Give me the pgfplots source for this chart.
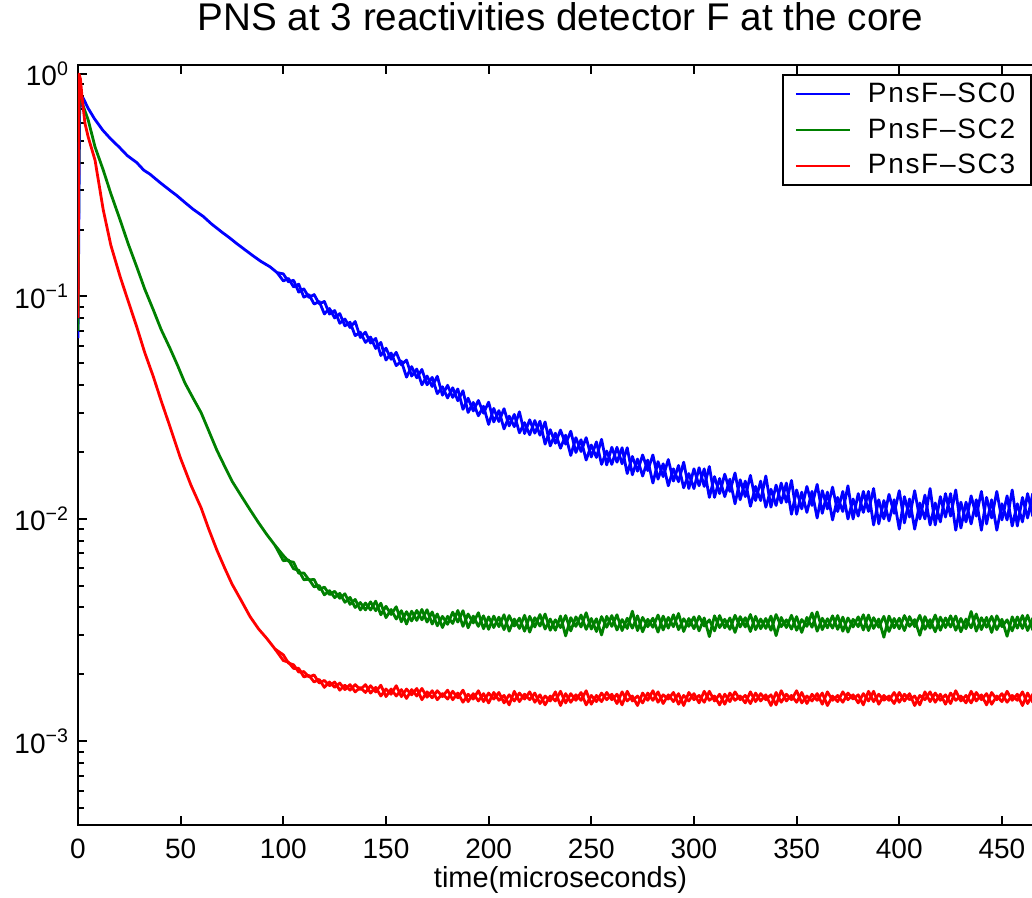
\documentclass[border=0pt]{standalone}
\usepackage{fontspec}
\setmainfont{Liberation Sans}
\newfontfamily\legfont[LetterSpace=6]{Liberation Sans}
\usepackage{pgfplots}
\pgfplotsset{compat=1.18}
\definecolor{cblue}{RGB}{0,0,255}
\definecolor{cgreen}{RGB}{0,128,0}
\definecolor{cred}{RGB}{255,0,0}
\begin{document}
\begin{tikzpicture}
\begin{axis}[
  scale only axis, width=482.5pt, height=380pt,
  at={(0,0)}, anchor=south west,
  ymode=log, xmin=0, xmax=470, ymin=4.21e-4, ymax=1.098,
  xtick={0,50,...,450},
  ytick={1e-3,1e-2,1e-1,1},
  yticklabels={10\textsuperscript{−3},10\textsuperscript{−2},10\textsuperscript{−1},10\textsuperscript{0}},
  minor ytick={5e-4,6e-4,7e-4,8e-4,9e-4,2e-3,3e-3,4e-3,5e-3,6e-3,7e-3,8e-3,9e-3,2e-2,3e-2,4e-2,5e-2,6e-2,7e-2,8e-2,9e-2,0.2,0.3,0.4,0.5,0.6,0.7,0.8,0.9},
  major tick length=4.5pt, minor tick length=3pt,
  tick style={line width=1pt, black},
  axis line style={line width=1pt},
  tick label style={font=\fontsize{14}{16}\selectfont},
  /pgf/number format/assume math mode=true,
  xticklabel style={anchor=base, yshift=-16.5pt},
  yticklabel style={anchor=east, xshift=-1pt},
  title={PNS at 3 reactivities detector F at the core},
  title style={at={(0.5,1)}, anchor=base, yshift=11.5pt, font=\fontsize{19.3}{22}\selectfont},
  xlabel={time(microseconds)},
  xlabel style={at={(0.5,0)}, anchor=base, yshift=-31pt, font=\fontsize{14.5}{16}\selectfont},
  every axis plot/.append style={line width=1.4pt, line join=round},
  legend cell align=left,
  legend image code/.code={\draw[#1, line width=1pt] (0pt,0pt) -- (27pt,0pt);},
  legend style={at={(0.7295,0.988)}, anchor=north west, draw=black, line width=1pt,
     font=\legfont\fontsize{14}{16}\selectfont, inner xsep=6pt, inner ysep=2pt, row sep=2.5pt,
     /tikz/every odd column/.append style={column sep=6.5pt}},
]
% ---------- PnsF-SC0 ----------
\addplot[cblue] coordinates {
(0,0.065) (0.8,0.70) (2.5,0.78) (5,0.70) (8,0.63) (12,0.56) (16,0.51) (20,0.47) (24,0.43) (28.6,0.40)
(32,0.37) (35,0.355) (40,0.325) (44.8,0.30) (48,0.285) (52,0.265) (56,0.247) (61,0.229) (65,0.212) (70,0.195)
(74,0.183) (77.3,0.173) (81,0.163) (85,0.153) (89,0.144) (93.5,0.136) (97,0.128)
(100,0.1264) (102.5,0.1164) (105,0.1183) (107.5,0.1046) (110,0.1082) (112.5,0.0989) (115,0.1020) (117.5,0.0927)
(120,0.0950) (122.5,0.0834) (125,0.0865) (127.5,0.0758) (130,0.0792) (132.5,0.0725) (135,0.0772) (137.5,0.0654)
(140,0.0691) (142.5,0.0618) (145,0.0648) (147.5,0.0543) (150,0.0586) (152.5,0.0522) (155,0.0561) (157.5,0.0493)
(160,0.0518) (162.5,0.0439) (165,0.0472) (167.5,0.0401) (170,0.0439) (172.5,0.0394) (175,0.0438) (177.5,0.0360)
(180,0.0399) (182.5,0.0352) (185,0.0384) (187.5,0.0311) (190,0.0349) (192.5,0.0306) (195,0.0341) (197.5,0.0299)
(200,0.0335) (202.5,0.0273) (205,0.0307) (207.5,0.0254) (210,0.0290) (212.5,0.0260) (215,0.0303) (217.5,0.0242)
(220,0.0279) (222.5,0.0243) (225,0.0275) (227.5,0.0217) (230,0.0252) (232.5,0.0219) (235,0.0251) (237.5,0.0217)
(240,0.0248) (242.5,0.0199) (245,0.0227) (247.5,0.0184) (250,0.0215) (252.5,0.0189) (255,0.0228) (257.5,0.0175)
(260,0.0210) (262.5,0.0180) (265,0.0209) (267.5,0.0160) (270,0.0191) (272.5,0.0164) (275,0.0194) (277.5,0.0165)
(280,0.0194) (282.5,0.0151) (285,0.0177) (287.5,0.0141) (290,0.0168) (292.5,0.0147) (295,0.0180) (297.5,0.0137)
(300,0.0168) (302.5,0.0141) (305,0.0168) (307.5,0.0125) (310,0.0155) (312.5,0.0130) (315,0.0159) (317.5,0.0133)
(320,0.0161) (322.5,0.0122) (325,0.0148) (327.5,0.0114) (330,0.0140) (332.5,0.0121) (335,0.0156) (337.5,0.0113)
(340,0.0142) (342.5,0.0118) (345,0.0145) (347.5,0.0105) (350,0.0135) (352.5,0.0111) (355,0.0140) (357.5,0.0115)
(360,0.0143) (362.5,0.0106) (365,0.0132) (367.5,0.0099) (370,0.0125) (372.5,0.0108) (375,0.0141) (377.5,0.0100)
(380,0.0130) (382.5,0.0107) (385,0.0133) (387.5,0.0094) (390,0.0122) (392.5,0.0100) (395,0.0129) (397.5,0.0106)
(400,0.0134) (402.5,0.0096) (405,0.0123) (407.5,0.0090) (410,0.0118) (412.5,0.0100) (415,0.0137) (417.5,0.0094)
(420,0.0126) (422.5,0.0102) (425,0.0130) (427.5,0.0089) (430,0.0119) (432.5,0.0097) (435,0.0127) (437.5,0.0103)
(440,0.0133) (442.5,0.0095) (445,0.0122) (447.5,0.0089) (450,0.0117) (452.5,0.0099) (455,0.0135) (457.5,0.0093)
(460,0.0125) (462.5,0.0101) (465,0.0130) (467.5,0.0089) (470,0.0119)
};
\addlegendentry{PnsF–SC0}
\addplot[cblue, forget plot] coordinates {
(97,0.128) (100,0.1175) (102.5,0.1206) (105,0.1104) (107.5,0.1136) (110,0.0993) (112.5,0.1020) (115,0.0925)
(117.5,0.0949) (120,0.0835) (122.5,0.0883) (125,0.0801) (127.5,0.0838) (130,0.0738) (132.5,0.0766) (135,0.0667)
(137.5,0.0691) (140,0.0622) (142.5,0.0657) (145,0.0584) (147.5,0.0622) (150,0.0518) (152.5,0.0557) (155,0.0489)
(157.5,0.0512) (160,0.0434) (162.5,0.0484) (165,0.0431) (167.5,0.0470) (170,0.0401) (172.5,0.0433) (175,0.0366)
(177.5,0.0393) (180,0.0350) (182.5,0.0389) (185,0.0340) (187.5,0.0377) (190,0.0301) (192.5,0.0334) (195,0.0291)
(197.5,0.0321) (200,0.0266) (202.5,0.0314) (205,0.0274) (207.5,0.0313) (210,0.0262) (212.5,0.0295) (215,0.0244)
(217.5,0.0271) (220,0.0239) (222.5,0.0277) (225,0.0238) (227.5,0.0273) (230,0.0213) (232.5,0.0243) (235,0.0208)
(237.5,0.0238) (240,0.0193) (242.5,0.0232) (245,0.0201) (247.5,0.0232) (250,0.0190) (252.5,0.0222) (255,0.0176)
(257.5,0.0202) (260,0.0176) (262.5,0.0210) (265,0.0177) (267.5,0.0209) (270,0.0158) (272.5,0.0186) (275,0.0156)
(277.5,0.0184) (280,0.0145) (282.5,0.0181) (285,0.0155) (287.5,0.0185) (290,0.0148) (292.5,0.0174) (295,0.0138)
(297.5,0.0160) (300,0.0137) (302.5,0.0170) (305,0.0140) (307.5,0.0172) (310,0.0125) (312.5,0.0152) (315,0.0126)
(317.5,0.0151) (320,0.0117) (322.5,0.0150) (325,0.0126) (327.5,0.0157) (330,0.0121) (332.5,0.0148) (335,0.0113)
(337.5,0.0136) (340,0.0115) (342.5,0.0145) (345,0.0119) (347.5,0.0149) (350,0.0105) (352.5,0.0132) (355,0.0107)
(357.5,0.0133) (360,0.0101) (362.5,0.0134) (365,0.0111) (367.5,0.0139) (370,0.0108) (372.5,0.0133) (375,0.0100)
(377.5,0.0123) (380,0.0103) (382.5,0.0133) (385,0.0108) (387.5,0.0137) (390,0.0095) (392.5,0.0121) (395,0.0098)
(397.5,0.0122) (400,0.0090) (402.5,0.0126) (405,0.0102) (407.5,0.0134) (410,0.0100) (412.5,0.0128) (415,0.0094)
(417.5,0.0118) (420,0.0097) (422.5,0.0130) (425,0.0103) (427.5,0.0135) (430,0.0091) (432.5,0.0119) (435,0.0095)
(437.5,0.0122) (440,0.0089) (442.5,0.0125) (445,0.0101) (447.5,0.0133) (450,0.0099) (452.5,0.0127) (455,0.0093)
(457.5,0.0117) (460,0.0097) (462.5,0.0130) (465,0.0103) (467.5,0.0135) (470,0.0092)
};
% ---------- PnsF-SC2 ----------
\addplot[cgreen] coordinates {
(0,0.07) (0.6,0.85) (1.5,0.80) (2.5,0.72) (5,0.62) (8.3,0.47) (12.3,0.37) (16,0.29) (20.5,0.221) (24.5,0.172)
(28.6,0.136) (32.5,0.108) (36.7,0.087) (40.5,0.071) (44.8,0.0585) (48.5,0.049) (52,0.041) (56,0.035) (60,0.0300)
(64,0.0245) (67.6,0.0204) (71.5,0.0172) (75,0.0148) (79.5,0.0127) (83.8,0.0110) (88,0.0096) (92,0.0085) (96,0.0076)
(100,0.00685) (102.5,0.00646) (105,0.00639) (107.5,0.00570) (110,0.00572) (112.5,0.00532) (115,0.00535) (117.5,0.00481)
(120,0.00494) (122.5,0.00457) (125,0.00473) (127.5,0.00440) (130,0.00461) (132.5,0.00413) (135,0.00435) (137.5,0.00390)
(140,0.00419) (142.5,0.00390) (145,0.00427) (147.5,0.00371) (150,0.00405) (152.5,0.00372) (155,0.00403) (157.5,0.00345)
(160,0.00383) (162.5,0.00348) (165,0.00388) (167.5,0.00352) (170,0.00391) (172.5,0.00337) (175,0.00374) (177.5,0.00325)
(180,0.00365) (182.5,0.00339) (185,0.00388) (187.5,0.00329) (190,0.00374) (192.5,0.00341) (195,0.00379) (197.5,0.00321)
(200,0.00363) (202.5,0.00325) (205,0.00362) (207.5,0.00318) (210,0.00368) (212.5,0.00330) (215,0.00358) (217.5,0.00313)
(220,0.00365) (222.5,0.00327) (225,0.00372) (227.5,0.00320) (230,0.00355) (232.5,0.00316) (235,0.00366) (237.5,0.00298)
(240,0.00360) (242.5,0.00329) (245,0.00370) (247.5,0.00319) (250,0.00357) (252.5,0.00312) (255,0.00364) (257.5,0.00326)
(260,0.00368) (262.5,0.00317) (265,0.00353) (267.5,0.00322) (270,0.00385) (272.5,0.00315) (275,0.00361) (277.5,0.00328)
(280,0.00358) (282.5,0.00310) (285,0.00366) (287.5,0.00323) (290,0.00371) (292.5,0.00318) (295,0.00356) (297.5,0.00329)
(300,0.00363) (302.5,0.00314) (305,0.00359) (307.5,0.00296) (310,0.00367) (312.5,0.00325) (315,0.00354) (317.5,0.00319)
(320,0.00369) (322.5,0.00327) (325,0.00360) (327.5,0.00312) (330,0.00365) (332.5,0.00321) (335,0.00357) (337.5,0.00316)
(340,0.00372) (342.5,0.00328) (345,0.00352) (347.5,0.00320) (350,0.00364) (352.5,0.00309) (355,0.00361) (357.5,0.00326)
(360,0.00382) (362.5,0.00318) (365,0.00356) (367.5,0.00323) (370,0.00368) (372.5,0.00313) (375,0.00359) (377.5,0.00327)
(380,0.00363) (382.5,0.00317) (385,0.00370) (387.5,0.00322) (390,0.00355) (392.5,0.00294) (395,0.00366) (397.5,0.00324)
(400,0.00358) (402.5,0.00315) (405,0.00364) (407.5,0.00328) (410,0.00369) (412.5,0.00319) (415,0.00353) (417.5,0.00311)
(420,0.00362) (422.5,0.00325) (425,0.00367) (427.5,0.00316) (430,0.00357) (432.5,0.00321) (435,0.00384) (437.5,0.00313)
(440,0.00360) (442.5,0.00326) (445,0.00365) (447.5,0.00318) (450,0.00354) (452.5,0.00297) (455,0.00363) (457.5,0.00323)
(460,0.00368) (462.5,0.00315) (465,0.00358) (467.5,0.00320) (470,0.00361)
};
\addlegendentry{PnsF–SC2}
\addplot[cgreen, forget plot] coordinates {
(96,0.0076) (100,0.00649) (102.5,0.00654) (105,0.00597) (107.5,0.00588) (110,0.00533) (112.5,0.00536) (115,0.00495)
(117.5,0.00502) (120,0.00456) (122.5,0.00476) (125,0.00443) (127.5,0.00463) (130,0.00422) (132.5,0.00444) (135,0.00400)
(137.5,0.00421) (140,0.00390) (142.5,0.00424) (145,0.00387) (147.5,0.00418) (150,0.00360) (152.5,0.00392) (155,0.00355)
(157.5,0.00387) (160,0.00337) (162.5,0.00385) (165,0.00350) (167.5,0.00392) (170,0.00344) (172.5,0.00382) (175,0.00331)
(177.5,0.00365) (180,0.00336) (182.5,0.00381) (185,0.00344) (187.5,0.00387) (190,0.00324) (192.5,0.00366) (195,0.00329)
(197.5,0.00367) (200,0.00319) (202.5,0.00366) (205,0.00328) (207.5,0.00371) (210,0.00313) (212.5,0.00355) (215,0.00322)
(217.5,0.00369) (220,0.00310) (222.5,0.00360) (225,0.00330) (227.5,0.00374) (230,0.00316) (232.5,0.00352) (235,0.00325)
(237.5,0.00368) (240,0.00314) (242.5,0.00363) (245,0.00327) (247.5,0.00379) (250,0.00320) (252.5,0.00356) (255,0.00301)
(257.5,0.00365) (260,0.00329) (262.5,0.00371) (265,0.00315) (267.5,0.00358) (270,0.00323) (272.5,0.00367) (275,0.00311)
(277.5,0.00354) (280,0.00326) (282.5,0.00370) (285,0.00317) (287.5,0.00361) (290,0.00328) (292.5,0.00376) (295,0.00312)
(297.5,0.00357) (300,0.00321) (302.5,0.00365) (305,0.00330) (307.5,0.00352) (310,0.00314) (312.5,0.00368) (315,0.00324)
(317.5,0.00359) (320,0.00309) (322.5,0.00364) (325,0.00327) (327.5,0.00372) (330,0.00318) (332.5,0.00355) (335,0.00322)
(337.5,0.00366) (340,0.00299) (342.5,0.00361) (345,0.00325) (347.5,0.00369) (350,0.00316) (352.5,0.00353) (355,0.00329)
(357.5,0.00378) (360,0.00313) (362.5,0.00358) (365,0.00324) (367.5,0.00367) (370,0.00319) (372.5,0.00362) (375,0.00310)
(377.5,0.00354) (380,0.00328) (382.5,0.00371) (385,0.00315) (387.5,0.00360) (390,0.00326) (392.5,0.00365) (395,0.00312)
(397.5,0.00357) (400,0.00321) (402.5,0.00368) (405,0.00329) (407.5,0.00353) (410,0.00300) (412.5,0.00364) (415,0.00323)
(417.5,0.00370) (420,0.00316) (422.5,0.00359) (425,0.00327) (427.5,0.00366) (430,0.00311) (432.5,0.00355) (435,0.00324)
(437.5,0.00374) (440,0.00318) (442.5,0.00361) (445,0.00309) (447.5,0.00367) (450,0.00328) (452.5,0.00352) (455,0.00314)
(457.5,0.00363) (460,0.00322) (462.5,0.00369) (465,0.00317) (467.5,0.00358) (470,0.00320)
};
% ---------- PnsF-SC3 ----------
\addplot[cred] coordinates {
(0,0.08) (0.5,1.0) (1.2,0.95) (2,0.78) (3.4,0.6) (5,0.52) (8.3,0.41) (12.3,0.245) (16,0.17) (20.5,0.123)
(24.5,0.095) (28.6,0.0731) (32.5,0.056) (36.7,0.0436) (40.5,0.034) (44.8,0.026) (49.7,0.019) (55,0.0142)
(60,0.0112) (63.5,0.0091) (67.6,0.00726) (71.5,0.0060) (75,0.0051) (79.5,0.0043) (83.8,0.00364) (88,0.0032)
(92,0.0029) (96,0.0026)
(100,0.00245) (102.5,0.00225) (105,0.00221) (107.5,0.00205) (110,0.00206) (112.5,0.00195) (115,0.00199) (117.5,0.00183)
(120,0.00188) (122.5,0.00178) (125,0.00185) (127.5,0.00170) (130,0.00179) (132.5,0.00170) (135,0.00180) (137.5,0.00171)
(140,0.00180) (142.5,0.00165) (145,0.00175) (147.5,0.00160) (150,0.00172) (152.5,0.00163) (155,0.00178) (157.5,0.00159)
(160,0.00172) (162.5,0.00162) (165,0.00173) (167.5,0.00154) (170,0.00167) (172.5,0.00157) (175,0.00169) (177.5,0.00159)
(180,0.00170) (182.5,0.00154) (185,0.00165) (187.5,0.00150) (190,0.00163) (192.5,0.00155) (195,0.00169) (197.5,0.00151)
(200,0.00165) (202.5,0.00155) (205,0.00166) (207.5,0.00149) (210,0.00162) (212.5,0.00152) (215,0.00165) (217.5,0.00155)
(220,0.00167) (222.5,0.00150) (225,0.00162) (227.5,0.00146) (230,0.00160) (232.5,0.00152) (235,0.00168) (237.5,0.00149)
(240,0.00164) (242.5,0.00153) (245,0.00166) (247.5,0.00146) (250,0.00161) (252.5,0.00151) (255,0.00165) (257.5,0.00154)
(260,0.00163) (262.5,0.00148) (265,0.00167) (267.5,0.00152) (270,0.00160) (272.5,0.00145) (275,0.00165) (277.5,0.00153)
(280,0.00169) (282.5,0.00150) (285,0.00162) (287.5,0.00155) (290,0.00166) (292.5,0.00147) (295,0.00161) (297.5,0.00152)
(300,0.00164) (302.5,0.00149) (305,0.00168) (307.5,0.00153) (310,0.00160) (312.5,0.00146) (315,0.00163) (317.5,0.00151)
(320,0.00167) (322.5,0.00154) (325,0.00161) (327.5,0.00148) (330,0.00165) (332.5,0.00152) (335,0.00162) (337.5,0.00145)
(340,0.00166) (342.5,0.00150) (345,0.00163) (347.5,0.00154) (350,0.00169) (352.5,0.00149) (355,0.00160) (357.5,0.00152)
(360,0.00164) (362.5,0.00147) (365,0.00167) (367.5,0.00153) (370,0.00161) (372.5,0.00150) (375,0.00165) (377.5,0.00155)
(380,0.00162) (382.5,0.00146) (385,0.00168) (387.5,0.00151) (390,0.00163) (392.5,0.00153) (395,0.00160) (397.5,0.00148)
(400,0.00166) (402.5,0.00152) (405,0.00164) (407.5,0.00145) (410,0.00161) (412.5,0.00154) (415,0.00167) (417.5,0.00150)
(420,0.00163) (422.5,0.00147) (425,0.00165) (427.5,0.00153) (430,0.00160) (432.5,0.00149) (435,0.00168) (437.5,0.00152)
(440,0.00162) (442.5,0.00146) (445,0.00166) (447.5,0.00154) (450,0.00164) (452.5,0.00150) (455,0.00161) (457.5,0.00153)
(460,0.00167) (462.5,0.00148) (465,0.00163) (467.5,0.00151) (470,0.00160)
};
\addlegendentry{PnsF–SC3}
\addplot[cred, forget plot] coordinates {
(96,0.0026) (100,0.00231) (102.5,0.00227) (105,0.00213) (107.5,0.00213) (110,0.00195) (112.5,0.00198) (115,0.00185)
(117.5,0.00190) (120,0.00175) (122.5,0.00185) (125,0.00175) (127.5,0.00183) (130,0.00171) (132.5,0.00180) (135,0.00167)
(137.5,0.00175) (140,0.00166) (142.5,0.00178) (145,0.00167) (147.5,0.00179) (150,0.00159) (152.5,0.00172) (155,0.00160)
(157.5,0.00171) (160,0.00156) (162.5,0.00171) (165,0.00160) (167.5,0.00173) (170,0.00158) (172.5,0.00169) (175,0.00154)
(177.5,0.00164) (180,0.00155) (182.5,0.00168) (185,0.00157) (187.5,0.00170) (190,0.00151) (192.5,0.00164) (195,0.00152)
(197.5,0.00164) (200,0.00149) (202.5,0.00166) (205,0.00153) (207.5,0.00161) (210,0.00146) (212.5,0.00168) (215,0.00151)
(217.5,0.00163) (220,0.00154) (222.5,0.00165) (225,0.00148) (227.5,0.00160) (230,0.00152) (232.5,0.00167) (235,0.00145)
(237.5,0.00164) (240,0.00150) (242.5,0.00162) (245,0.00153) (247.5,0.00169) (250,0.00147) (252.5,0.00161) (255,0.00151)
(257.5,0.00166) (260,0.00154) (262.5,0.00163) (265,0.00146) (267.5,0.00168) (270,0.00152) (272.5,0.00160) (275,0.00149)
(277.5,0.00165) (280,0.00153) (282.5,0.00167) (285,0.00148) (287.5,0.00162) (290,0.00151) (292.5,0.00164) (295,0.00145)
(297.5,0.00166) (300,0.00154) (302.5,0.00161) (305,0.00150) (307.5,0.00168) (310,0.00152) (312.5,0.00163) (315,0.00147)
(317.5,0.00165) (320,0.00153) (322.5,0.00160) (325,0.00149) (327.5,0.00167) (330,0.00151) (332.5,0.00164) (335,0.00154)
(337.5,0.00162) (340,0.00146) (342.5,0.00169) (345,0.00152) (347.5,0.00161) (350,0.00150) (352.5,0.00166) (355,0.00148)
(357.5,0.00163) (360,0.00153) (362.5,0.00165) (365,0.00145) (367.5,0.00160) (370,0.00151) (372.5,0.00167) (375,0.00154)
(377.5,0.00162) (380,0.00149) (382.5,0.00164) (385,0.00152) (387.5,0.00168) (390,0.00147) (392.5,0.00161) (395,0.00153)
(397.5,0.00166) (400,0.00150) (402.5,0.00163) (405,0.00154) (407.5,0.00160) (410,0.00146) (412.5,0.00167) (415,0.00151)
(417.5,0.00165) (420,0.00153) (422.5,0.00162) (425,0.00148) (427.5,0.00169) (430,0.00152) (432.5,0.00161) (435,0.00149)
(437.5,0.00166) (440,0.00154) (442.5,0.00164) (445,0.00147) (447.5,0.00160) (450,0.00151) (452.5,0.00168) (455,0.00153)
(457.5,0.00163) (460,0.00145) (462.5,0.00165) (465,0.00150) (467.5,0.00162) (470,0.00152)
};
\end{axis}
\pgfresetboundingbox
\path[use as bounding box] (-39pt,-36.5pt) rectangle (477pt,412.5pt);
\end{tikzpicture}
\end{document}
